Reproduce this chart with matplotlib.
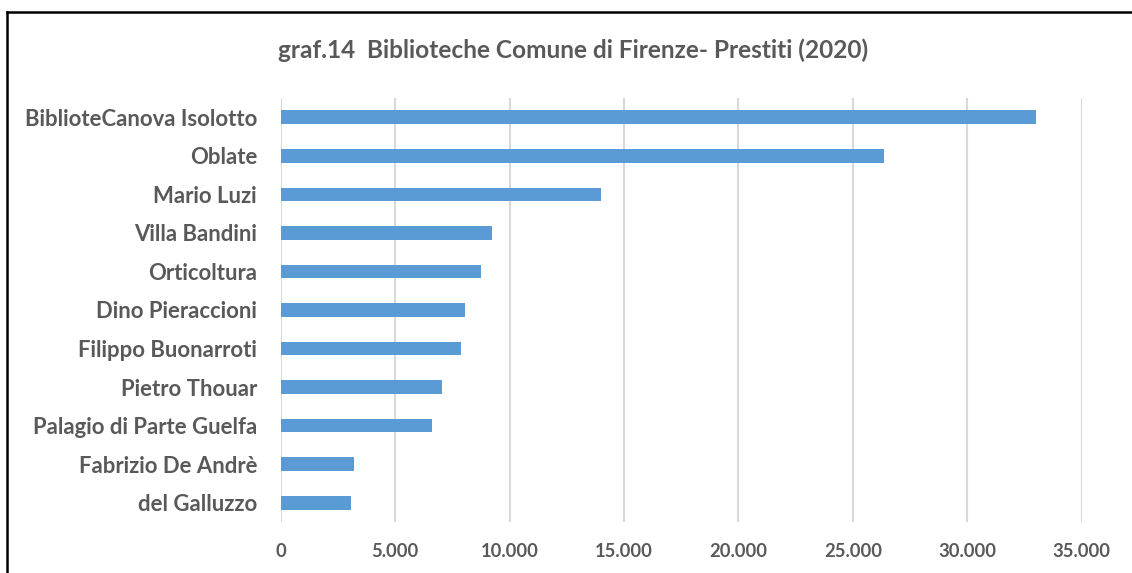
import matplotlib.pyplot as plt
from matplotlib.ticker import FuncFormatter, MultipleLocator
from matplotlib.lines import Line2D

# Prestiti 2020 per biblioteca
biblioteche = [
    "BiblioteCanova Isolotto",
    "Oblate",
    "Mario Luzi",
    "Villa Bandini",
    "Orticoltura",
    "Dino Pieraccioni",
    "Filippo Buonarroti",
    "Pietro Thouar",
    "Palagio di Parte Guelfa",
    "Fabrizio De Andrè",
    "del Galluzzo",
]
prestiti = [33000, 26340, 14000, 9220, 8750, 8040, 7870, 7060, 6630, 3190, 3060]

titolo = "graf.14  Biblioteche Comune di Firenze- Prestiti (2020)"

grigio = "#595959"
blu = "#5b9bd5"
font = ["Lato", "DejaVu Sans"]

fig = plt.figure(figsize=(11.32, 5.73), dpi=100)
ax = fig.add_axes([0.248, 0.089, 0.7076, 0.74])

pos = list(range(len(biblioteche)))
ax.barh(pos, prestiti, height=0.355, color=blu, zorder=3)
ax.set_ylim(len(biblioteche) - 0.5, -0.5)
ax.set_xlim(0, 35000)
ax.set_yticks(pos)
ax.set_yticklabels(biblioteche, fontsize=15.9, fontweight="bold", color=grigio, family=font)

ax.xaxis.set_major_locator(MultipleLocator(5000))
ax.xaxis.set_major_formatter(FuncFormatter(lambda v, p: f"{int(v):,}".replace(",", ".")))
for lab in ax.get_xticklabels():
    lab.set_fontsize(13.2)
    lab.set_fontweight("bold")
    lab.set_color(grigio)
    lab.set_family(font)

ax.grid(axis="x", color="#d9d9d9", linewidth=1.5, zorder=0)
ax.tick_params(axis="both", length=0)
ax.tick_params(axis="y", pad=17)
ax.tick_params(axis="x", pad=15)
for s in ax.spines.values():
    s.set_visible(False)

fig.text(573 / 1132, 1 - 50 / 573, titolo, ha="center", va="center",
         fontsize=17.6, fontweight="bold", color=grigio, family=font)

# cornice (solo lato sinistro e superiore visibili)
fig.add_artist(Line2D([7 / 1132, 7 / 1132], [0, 1 - 12 / 573], color="black", linewidth=1.8,
                      transform=fig.transFigure))
fig.add_artist(Line2D([7 / 1132, 1], [1 - 12 / 573, 1 - 12 / 573], color="black", linewidth=1.8,
                      transform=fig.transFigure))

fig.savefig("out.png", dpi=100)
